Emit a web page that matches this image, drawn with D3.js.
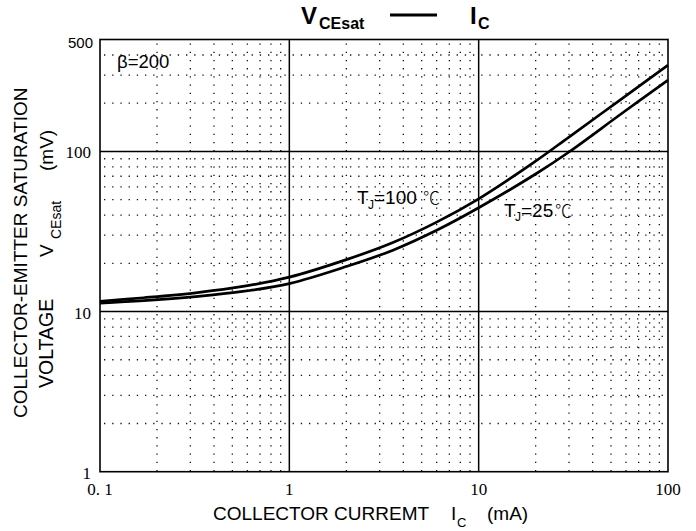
<!DOCTYPE html>
<html>
<head>
<meta charset="utf-8">
<script src="https://cdn.jsdelivr.net/npm/d3@7"></script>
<style>
  body { margin: 0; background: #fff; }
  text { font-family: "Liberation Sans", Arial, sans-serif; fill: #000; }
  .serif { font-family: "Liberation Serif", "Times New Roman", serif; }
</style>
</head>
<body>
<svg id="chart" width="696" height="531"></svg>
<script>
// collector current (mA) and saturation voltage (mV)
const currentMA = [0.1, 0.17, 0.32, 0.58, 1, 2, 3.5, 6, 10, 20, 30, 56, 100];
const vce100C = [11.6, 12.2, 13.1, 14.4, 16.4, 21.1, 26.9, 36.2, 50.6, 87, 123, 210, 346];
const vce25C = [11.3, 11.7, 12.4, 13.4, 14.95, 19.1, 24.1, 32.2, 44.5, 72.3, 99.2, 170, 279];

const xTicks = [0.1, 1, 10, 100];
const xTickLabels = ["0. 1", "1", "10", "100"];
const yTicks = [1, 10, 100, 500];
const yTickLabels = ["1", "10", "100", "500"];
const xMajor = [1, 10];
const yMajor = [10, 100];

const LEFT = 100, RIGHT = 668, TOP = 39.5, BOTTOM = 471.7;

const svg = d3.select("#chart");

const x = d3.scaleLog().domain([0.1, 100]).range([LEFT, RIGHT]);
const y = d3.scaleLog().domain([1, 500]).range([BOTTOM, TOP]);

//dotted minor grid
const xMinor = x.ticks().filter((d) => !xTicks.includes(d) && !xMajor.includes(d));
const yMinor = y.ticks().filter((d) => !yTicks.includes(d) && !yMajor.includes(d));

const grid = svg.append("g")
  .attr("stroke", "#111")
  .attr("stroke-width", 1.3)
  .attr("stroke-dasharray", "1.3,6.9");

grid.selectAll(".vminor")
  .data(xMinor)
  .join("line")
  .attr("x1", (d) => x(d))
  .attr("x2", (d) => x(d))
  .attr("y1", TOP + 4)
  .attr("y2", BOTTOM);

grid.selectAll(".hminor")
  .data(yMinor)
  .join("line")
  .attr("x1", LEFT + 4)
  .attr("x2", RIGHT)
  .attr("y1", (d) => y(d))
  .attr("y2", (d) => y(d));

//solid decade lines
svg.append("g")
  .selectAll("line")
  .data(xMajor)
  .join("line")
  .attr("x1", (d) => x(d))
  .attr("x2", (d) => x(d))
  .attr("y1", TOP)
  .attr("y2", BOTTOM)
  .attr("stroke", "#000")
  .attr("stroke-width", 1.5);

svg.append("g")
  .selectAll("line")
  .data(yMajor)
  .join("line")
  .attr("x1", LEFT)
  .attr("x2", RIGHT)
  .attr("y1", (d) => y(d))
  .attr("y2", (d) => y(d))
  .attr("stroke", "#000")
  .attr("stroke-width", 1.5);

svg.append("rect")
  .attr("x", LEFT)
  .attr("y", TOP)
  .attr("width", RIGHT - LEFT)
  .attr("height", BOTTOM - TOP)
  .attr("fill", "none")
  .attr("stroke", "#000")
  .attr("stroke-width", 1.6);

//curves
const line = d3.line()
  .x((d) => x(d[0]))
  .y((d) => y(d[1]))
  .curve(d3.curveCatmullRom.alpha(0.5));

[vce100C, vce25C].forEach((series) => {
  svg.append("path")
    .datum(currentMA.map((c, i) => [c, series[i]]))
    .attr("d", line)
    .attr("fill", "none")
    .attr("stroke", "#000")
    .attr("stroke-width", 2.7);
});

//tick labels
svg.append("g")
  .selectAll("text")
  .data(xTicks)
  .join("text")
  .attr("class", "serif")
  .attr("x", (d) => x(d))
  .attr("y", 495)
  .attr("text-anchor", "middle")
  .style("font-size", "17px")
  .text((d, i) => xTickLabels[i]);

svg.append("g")
  .selectAll("text")
  .data(yTicks)
  .join("text")
  .attr("class", (d) => (d === 500 ? null : "serif"))
  .attr("x", (d) => (d === 500 ? 93 : 91))
  .attr("y", (d) => (d === 500 ? y(d) + 8 : y(d) + 7))
  .attr("text-anchor", "end")
  .style("font-size", (d) => (d === 500 ? "15px" : "17px"))
  .text((d, i) => yTickLabels[i]);

//title
function txt(str, px, py, size, weight) {
  return svg.append("text")
    .attr("x", px)
    .attr("y", py)
    .style("font-size", size + "px")
    .style("font-weight", weight || "normal")
    .text(str);
}

txt("V", 301, 24, 24, "bold");
txt("CEsat", 319, 29, 16, "bold");
svg.append("line")
  .attr("x1", 390).attr("x2", 437)
  .attr("y1", 15).attr("y2", 15)
  .attr("stroke", "#000").attr("stroke-width", 3);
txt("I", 470, 23.5, 24, "bold");
txt("C", 478, 29, 16, "bold");

//annotations
txt("β=200", 117, 68, 18.5);
txt("T", 357, 204, 19);
txt("J", 368, 209, 12);
txt("=100", 374, 204, 19);
txt("℃", 423, 204, 17).style("font-family", "'Noto Sans CJK SC', sans-serif").style("font-weight", "300");
txt("T", 504, 217, 19);
txt("J", 515, 221, 12);
txt("=25", 521, 217, 19);
txt("℃", 555, 217, 17).style("font-family", "'Noto Sans CJK SC', sans-serif").style("font-weight", "300");

//x axis title
txt("COLLECTOR CURREMT", 213, 520, 19);
txt("I", 451, 520, 19);
txt("C", 457, 527, 13);
txt("(mA)", 487, 520, 19);

//y axis title, rotated
function vtxt(str, screenY, baseX, size) {
  return svg.append("text")
    .attr("transform", `translate(${baseX},${screenY}) rotate(-90)`)
    .style("font-size", size + "px")
    .text(str);
}

vtxt("COLLECTOR-EMITTER SATURATION", 418, 27, 19);
vtxt("VOLTAGE", 388, 53, 19.5);
vtxt("V", 257, 53, 19);
vtxt("CEsat", 239, 61, 14);
vtxt("(mV)", 171, 53, 19);
</script>
</body>
</html>
